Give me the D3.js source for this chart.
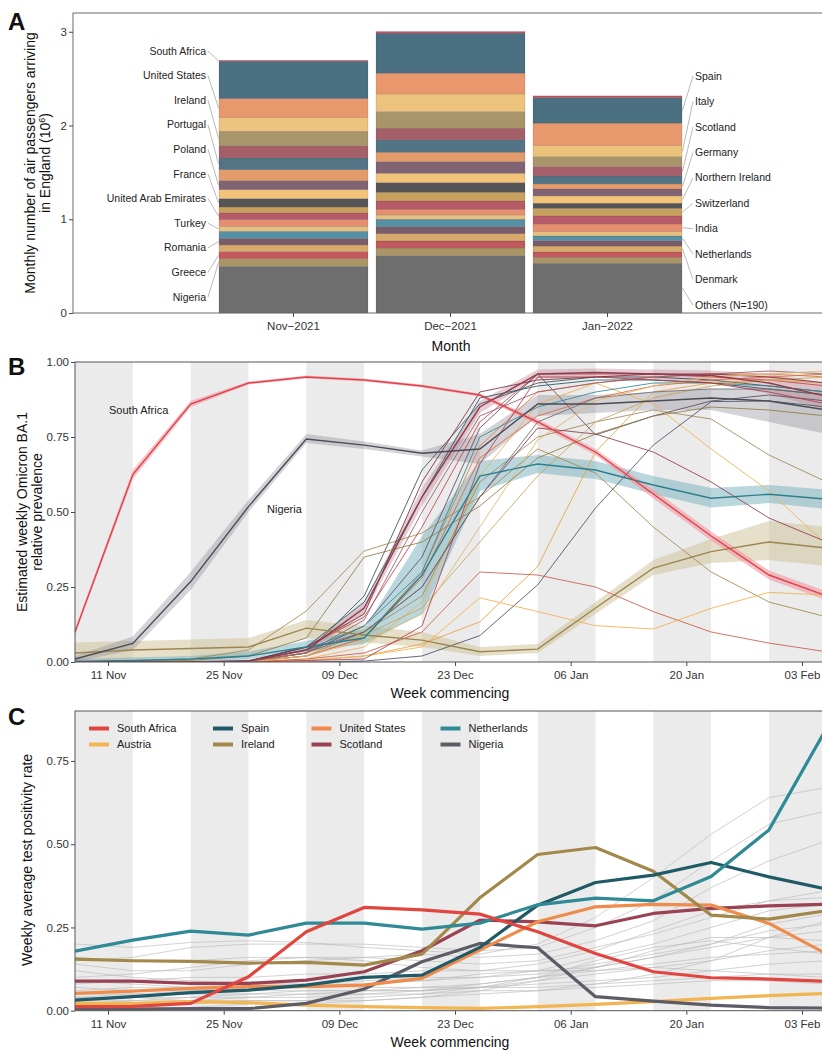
<!DOCTYPE html>
<html>
<head>
<meta charset="utf-8">
<script src="https://cdn.jsdelivr.net/npm/d3@7"></script>
<style>
  body { margin: 0; background: #fff; }
  svg { display: block; }
</style>
</head>
<body>
<svg id="fig" width="822" height="1052"></svg>
<script>
// ---------- Panel A: monthly arrivals by origin (millions) ----------
const months = ["Nov\u22122021", "Dec\u22122021", "Jan\u22122022"];
const origins = ["South Africa", "Spain", "United States", "Italy", "Ireland", "Scotland",
  "Portugal", "Germany", "Poland", "Northern Ireland", "France", "Switzerland",
  "United Arab Emirates", "India", "Turkey", "Netherlands", "Romania", "Denmark",
  "Greece", "Nigeria", "Others (N=190)"];
const passengersNov = [0.010, 0.398, 0.199, 0.150, 0.153, 0.131, 0.125, 0.117, 0.096, 0.096,
  0.089, 0.064, 0.071, 0.072, 0.053, 0.075, 0.070, 0.072, 0.075, 0.082, 0.497];
const passengersDec = [0.017, 0.427, 0.221, 0.189, 0.177, 0.124, 0.132, 0.100, 0.124, 0.100,
  0.103, 0.093, 0.088, 0.061, 0.046, 0.079, 0.075, 0.078, 0.074, 0.082, 0.612];
const passengersJan = [0.018, 0.273, 0.240, 0.117, 0.107, 0.099, 0.085, 0.053, 0.075, 0.078,
  0.054, 0.082, 0.085, 0.082, 0.046, 0.050, 0.058, 0.062, 0.056, 0.066, 0.530];
const originColors = ["#c9505c", "#4a6f80", "#e8986c", "#edc27d", "#a89569", "#a55f68",
  "#527485", "#e39b6a", "#806474", "#f1c479", "#555558", "#c8a15e", "#b65b67", "#e48f6f",
  "#e5c07f", "#5590a4", "#7a5c68", "#d6a96d", "#c2595f", "#a99566", "#6e6e6e"];
const labelledLeft = ["South Africa", "United States", "Ireland", "Portugal", "Poland", "France",
  "United Arab Emirates", "Turkey", "Romania", "Greece", "Nigeria"];
const labelledRight = ["Spain", "Italy", "Scotland", "Germany", "Northern Ireland", "Switzerland",
  "India", "Netherlands", "Denmark", "Others (N=190)"];
const passengerTicks = [0, 1, 2, 3];

// ---------- Panels B and C: weekly series ----------
const weekStarts = ["2021-11-07", "2021-11-14", "2021-11-21", "2021-11-28", "2021-12-05",
  "2021-12-12", "2021-12-19", "2021-12-26", "2022-01-02", "2022-01-09", "2022-01-16",
  "2022-01-23", "2022-01-30", "2022-02-06"];
const dateTicks = ["2021-11-11", "2021-11-25", "2021-12-09", "2021-12-23", "2022-01-06",
  "2022-01-20", "2022-02-03"];
const prevalenceTicks = [0, 0.25, 0.5, 0.75, 1];
const positivityTicks = [0, 0.25, 0.5, 0.75];

// Omicron BA.1 relative prevalence, origins with credible bands
const baSouthAfrica   = [0.10, 0.625, 0.86, 0.93, 0.95, 0.94, 0.92, 0.89, 0.80, 0.70, 0.56, 0.42, 0.29, 0.22];
const baSouthAfricaLo = [0.09, 0.61, 0.85, 0.925, 0.945, 0.935, 0.915, 0.885, 0.79, 0.69, 0.545, 0.405, 0.275, 0.205];
const baSouthAfricaHi = [0.11, 0.64, 0.87, 0.935, 0.955, 0.945, 0.925, 0.895, 0.81, 0.71, 0.575, 0.435, 0.305, 0.235];
const baNigeria   = [0.01, 0.062, 0.268, 0.518, 0.743, 0.723, 0.696, 0.71, 0.86, 0.86, 0.87, 0.88, 0.87, 0.84];
const baNigeriaLo = [0.0, 0.04, 0.24, 0.50, 0.73, 0.71, 0.685, 0.66, 0.82, 0.83, 0.84, 0.84, 0.80, 0.76];
const baNigeriaHi = [0.02, 0.085, 0.30, 0.54, 0.76, 0.735, 0.705, 0.76, 0.89, 0.89, 0.90, 0.91, 0.91, 0.90];
const baTeal   = [0.002, 0.005, 0.01, 0.02, 0.05, 0.08, 0.29, 0.62, 0.66, 0.64, 0.59, 0.546, 0.559, 0.543];
const baTealLo = [0.0, 0.0, 0.002, 0.01, 0.035, 0.06, 0.16, 0.57, 0.63, 0.61, 0.56, 0.515, 0.53, 0.51];
const baTealHi = [0.01, 0.015, 0.02, 0.035, 0.07, 0.11, 0.42, 0.67, 0.69, 0.67, 0.62, 0.58, 0.59, 0.575];
const baKhaki   = [0.03, 0.04, 0.045, 0.05, 0.113, 0.09, 0.073, 0.034, 0.043, 0.18, 0.313, 0.368, 0.40, 0.38];
const baKhakiLo = [0.0, 0.01, 0.015, 0.02, 0.08, 0.065, 0.05, 0.02, 0.03, 0.16, 0.29, 0.33, 0.34, 0.32];
const baKhakiHi = [0.065, 0.07, 0.075, 0.08, 0.14, 0.12, 0.10, 0.05, 0.06, 0.20, 0.34, 0.41, 0.47, 0.45];
const baMaroon   = [0.0, 0.0, 0.0, 0.003, 0.04, 0.18, 0.55, 0.85, 0.96, 0.965, 0.96, 0.955, 0.93, 0.885];
const baMaroonLo = [0.0, 0.0, 0.0, 0.0, 0.03, 0.16, 0.52, 0.83, 0.945, 0.95, 0.94, 0.93, 0.895, 0.84];
const baMaroonHi = [0.003, 0.003, 0.003, 0.008, 0.05, 0.20, 0.58, 0.87, 0.975, 0.978, 0.975, 0.972, 0.96, 0.93];

// remaining origins (no bands)
const baOtherSeries = [
  [0, 0, 0, 0.002, 0.03, 0.22, 0.64, 0.86, 0.93, 0.95, 0.95, 0.94, 0.92, 0.90],
  [0, 0, 0, 0.002, 0.05, 0.15, 0.45, 0.80, 0.96, 0.96, 0.96, 0.95, 0.94, 0.92],
  [0, 0, 0, 0.001, 0.03, 0.12, 0.35, 0.78, 0.96, 0.757, 0.82, 0.87, 0.89, 0.87],
  [0, 0, 0, 0.001, 0.02, 0.08, 0.30, 0.72, 0.90, 0.93, 0.95, 0.96, 0.96, 0.95],
  [0, 0, 0, 0, 0.01, 0.05, 0.20, 0.62, 0.86, 0.93, 0.86, 0.71, 0.57, 0.39],
  [0, 0.005, 0.01, 0.04, 0.17, 0.37, 0.43, 0.55, 0.71, 0.63, 0.45, 0.30, 0.20, 0.15],
  [0, 0, 0.001, 0.005, 0.04, 0.12, 0.30, 0.75, 0.85, 0.90, 0.93, 0.93, 0.92, 0.90],
  [0, 0, 0, 0.003, 0.05, 0.20, 0.55, 0.88, 0.92, 0.94, 0.94, 0.93, 0.91, 0.89],
  [0, 0, 0, 0.002, 0.02, 0.10, 0.22, 0.60, 0.75, 0.80, 0.84, 0.81, 0.69, 0.60],
  [0, 0, 0, 0, 0, 0.003, 0.02, 0.088, 0.257, 0.513, 0.723, 0.868, 0.87, 0.85],
  [0, 0, 0, 0, 0.005, 0.02, 0.06, 0.134, 0.318, 0.70, 0.90, 0.93, 0.94, 0.93],
  [0, 0, 0, 0, 0.01, 0.03, 0.10, 0.30, 0.29, 0.25, 0.168, 0.10, 0.063, 0.034],
  [0, 0, 0, 0, 0.005, 0.02, 0.05, 0.214, 0.168, 0.121, 0.11, 0.179, 0.232, 0.223],
  [0, 0, 0, 0.002, 0.03, 0.10, 0.25, 0.55, 0.78, 0.76, 0.70, 0.60, 0.48, 0.40],
  [0, 0, 0, 0.002, 0.02, 0.08, 0.28, 0.68, 0.82, 0.88, 0.92, 0.94, 0.95, 0.96],
  [0, 0, 0, 0.001, 0.03, 0.09, 0.18, 0.40, 0.62, 0.80, 0.88, 0.92, 0.94, 0.95],
  [0, 0, 0, 0.002, 0.03, 0.14, 0.50, 0.82, 0.90, 0.93, 0.95, 0.96, 0.97, 0.96],
  [0, 0, 0, 0.002, 0.04, 0.10, 0.25, 0.55, 0.80, 0.88, 0.90, 0.91, 0.91, 0.89],
  [0, 0, 0, 0.003, 0.05, 0.16, 0.60, 0.90, 0.94, 0.95, 0.96, 0.96, 0.95, 0.93],
  [0, 0, 0, 0, 0.02, 0.07, 0.16, 0.45, 0.74, 0.87, 0.92, 0.95, 0.96, 0.97],
  [0, 0.003, 0.005, 0.02, 0.08, 0.35, 0.40, 0.52, 0.68, 0.76, 0.82, 0.85, 0.84, 0.82],
  [0, 0, 0, 0, 0.005, 0.01, 0.12, 0.66, 0.95, 0.95, 0.94, 0.93, 0.90, 0.86]
];
const baOtherColors = ["#3b4d5a", "#c8424a", "#5e4a60", "#e57a3c", "#f0b050", "#a38a4c",
  "#2f8a96", "#1f5a66", "#9c8a5c", "#4a4f66", "#e9a040", "#cf5a4a", "#f2b04e", "#8e3b4d",
  "#dd6a3e", "#c9a25a", "#9a5a6a", "#6b6b70", "#7a2d3b", "#dfb66a", "#8f7d45", "#a8404f"];

// Weekly average test positivity rate
const tprNames  = ["South Africa", "Austria", "Spain", "Ireland", "United States", "Scotland", "Netherlands", "Nigeria"];
const tprColors = ["#e0463f", "#f2b551", "#1f5a66", "#a3884c", "#ef8b4b", "#9a4152", "#2f8a96", "#5d5c66"];
const tprSouthAfrica  = [0.012, 0.013, 0.022, 0.102, 0.237, 0.31, 0.303, 0.29, 0.237, 0.172, 0.117, 0.099, 0.095, 0.088];
const tprAustria      = [0.022, 0.022, 0.027, 0.024, 0.017, 0.012, 0.009, 0.007, 0.012, 0.019, 0.027, 0.037, 0.045, 0.052];
const tprSpain        = [0.032, 0.042, 0.054, 0.062, 0.077, 0.10, 0.107, 0.19, 0.317, 0.385, 0.407, 0.445, 0.402, 0.365];
const tprIreland      = [0.155, 0.15, 0.148, 0.143, 0.145, 0.137, 0.17, 0.339, 0.469, 0.49, 0.419, 0.287, 0.275, 0.30];
const tprUnitedStates = [0.052, 0.059, 0.067, 0.072, 0.072, 0.077, 0.097, 0.182, 0.267, 0.312, 0.319, 0.317, 0.262, 0.17];
const tprScotland     = [0.089, 0.089, 0.082, 0.082, 0.092, 0.117, 0.18, 0.272, 0.267, 0.255, 0.292, 0.307, 0.315, 0.32];
const tprNetherlands  = [0.179, 0.212, 0.239, 0.227, 0.263, 0.263, 0.245, 0.263, 0.318, 0.338, 0.33, 0.403, 0.543, 0.85];
const tprNigeria      = [0.005, 0.005, 0.006, 0.006, 0.022, 0.065, 0.147, 0.202, 0.189, 0.042, 0.029, 0.017, 0.009, 0.008];
const tprBackground = [
  [0.20, 0.19, 0.205, 0.21, 0.205, 0.19, 0.18, 0.17, 0.20, 0.28, 0.40, 0.53, 0.64, 0.67],
  [0.15, 0.16, 0.19, 0.20, 0.20, 0.20, 0.19, 0.18, 0.19, 0.25, 0.33, 0.45, 0.56, 0.60],
  [0.14, 0.12, 0.12, 0.14, 0.15, 0.16, 0.17, 0.16, 0.17, 0.21, 0.27, 0.37, 0.45, 0.51],
  [0.10, 0.11, 0.13, 0.15, 0.16, 0.16, 0.15, 0.14, 0.15, 0.19, 0.23, 0.28, 0.33, 0.36],
  [0.08, 0.09, 0.10, 0.10, 0.11, 0.11, 0.12, 0.12, 0.14, 0.18, 0.24, 0.30, 0.33, 0.34],
  [0.06, 0.07, 0.07, 0.08, 0.08, 0.09, 0.10, 0.10, 0.12, 0.16, 0.20, 0.25, 0.30, 0.32],
  [0.05, 0.05, 0.06, 0.06, 0.07, 0.08, 0.09, 0.10, 0.11, 0.14, 0.17, 0.20, 0.24, 0.26],
  [0.04, 0.05, 0.05, 0.05, 0.06, 0.06, 0.07, 0.08, 0.10, 0.13, 0.16, 0.19, 0.22, 0.24],
  [0.03, 0.04, 0.04, 0.05, 0.05, 0.06, 0.06, 0.07, 0.09, 0.11, 0.13, 0.15, 0.18, 0.20],
  [0.02, 0.03, 0.03, 0.04, 0.04, 0.05, 0.06, 0.08, 0.10, 0.12, 0.14, 0.16, 0.17, 0.18],
  [0.09, 0.08, 0.07, 0.06, 0.06, 0.06, 0.06, 0.07, 0.08, 0.09, 0.10, 0.12, 0.14, 0.15],
  [0.12, 0.10, 0.09, 0.08, 0.08, 0.07, 0.07, 0.07, 0.07, 0.08, 0.09, 0.10, 0.11, 0.11],
  [0.02, 0.02, 0.02, 0.03, 0.03, 0.03, 0.04, 0.05, 0.06, 0.08, 0.11, 0.15, 0.22, 0.27],
  [0.01, 0.01, 0.01, 0.02, 0.02, 0.03, 0.04, 0.06, 0.09, 0.13, 0.18, 0.22, 0.22, 0.21],
  [0.07, 0.06, 0.06, 0.07, 0.08, 0.08, 0.09, 0.11, 0.12, 0.12, 0.13, 0.12, 0.11, 0.10],
  [0.04, 0.04, 0.03, 0.03, 0.03, 0.04, 0.05, 0.07, 0.10, 0.15, 0.19, 0.21, 0.19, 0.17],
  [0.16, 0.15, 0.15, 0.16, 0.16, 0.15, 0.13, 0.12, 0.12, 0.13, 0.16, 0.20, 0.26, 0.29],
  [0.03, 0.03, 0.04, 0.04, 0.05, 0.05, 0.05, 0.06, 0.06, 0.07, 0.08, 0.09, 0.09, 0.08]
];

// ---------- drawing ----------
const FONT = "'Liberation Sans', Arial, Helvetica, sans-serif";
const TICK_SIZE = 11.5, TITLE_SIZE = 14;
const svg = d3.select("#fig").attr("font-family", FONT);

function styleAxis(g) {
  g.attr("font-family", FONT).attr("font-size", TICK_SIZE);
  g.select(".domain").remove();
  g.selectAll(".tick line").attr("stroke", "#333").attr("stroke-width", 0.9);
  g.selectAll(".tick text").attr("fill", "#333");
}
function panelLetter(t, x, y) {
  svg.append("text").attr("x", x).attr("y", y).attr("font-size", 24).attr("font-weight", "bold")
    .attr("fill", "#111").text(t);
}

// ===== Panel A =====
const gA = svg.append("g");
const xA = d3.scaleBand().domain(months).range([219, 682]).paddingInner(0.051);
const yA = d3.scaleLinear().domain([0, 3.2]).range([313, 13]);
const monthValues = [passengersNov, passengersDec, passengersJan];
const rows = months.map((m, i) => {
  const r = { month: m };
  origins.forEach((o, j) => { r[o] = monthValues[i][j]; });
  return r;
});
const stacked = d3.stack().keys(origins.slice().reverse())(rows);

gA.selectAll("g.layer").data(stacked).join("g").attr("class", "layer")
  .attr("fill", d => originColors[origins.indexOf(d.key)])
  .selectAll("rect").data(d => d).join("rect")
  .attr("x", d => xA(d.data.month)).attr("width", xA.bandwidth())
  .attr("y", d => yA(d[1])).attr("height", d => yA(d[0]) - yA(d[1]))
  .attr("stroke", "rgba(70,45,45,0.28)").attr("stroke-width", 0.5);

gA.append("rect").attr("x", 73).attr("y", 13).attr("width", 760).attr("height", 300)
  .attr("fill", "none").attr("stroke", "#6a6a6a").attr("stroke-width", 1);

gA.append("g").attr("transform", "translate(73,0)")
  .call(d3.axisLeft(yA).tickValues(passengerTicks).tickFormat(d3.format("d")).tickSize(4).tickPadding(2))
  .call(styleAxis);
gA.append("g").attr("transform", "translate(0,313)")
  .call(d3.axisBottom(xA).tickSize(4).tickPadding(5)).call(styleAxis);

function segmentMid(name, mi) {
  const s = stacked.find(l => l.key === name);
  return yA((s[mi][0] + s[mi][1]) / 2);
}
const leftLabelY = d3.scaleLinear().domain([0, labelledLeft.length - 1]).range([51, 297]);
const rightLabelY = d3.scaleLinear().domain([0, labelledRight.length - 1]).range([76, 305]);
const barLeft = xA(months[0]);
const barRight = xA(months[2]) + xA.bandwidth();

labelledLeft.forEach((name, i) => {
  const ly = leftLabelY(i);
  gA.append("line").attr("x1", 208).attr("y1", ly).attr("x2", barLeft - 0.5).attr("y2", segmentMid(name, 0))
    .attr("stroke", "#8a8a8a").attr("stroke-width", 0.6);
  gA.append("text").attr("x", 206).attr("y", ly).attr("dy", "0.35em").attr("text-anchor", "end")
    .attr("font-size", 10.5).attr("fill", "#222").text(name);
});
labelledRight.forEach((name, i) => {
  const ly = rightLabelY(i);
  gA.append("line").attr("x1", barRight + 0.5).attr("y1", segmentMid(name, 2)).attr("x2", 693).attr("y2", ly)
    .attr("stroke", "#8a8a8a").attr("stroke-width", 0.6);
  gA.append("text").attr("x", 695).attr("y", ly).attr("dy", "0.35em")
    .attr("font-size", 10.5).attr("fill", "#222").text(name);
});

gA.append("text").attr("transform", "translate(35,163) rotate(-90)").attr("text-anchor", "middle")
  .attr("font-size", TITLE_SIZE).attr("fill", "#111").text("Monthly number of air passengers arriving");
gA.append("text").attr("transform", "translate(50,163) rotate(-90)").attr("text-anchor", "middle")
  .attr("font-size", TITLE_SIZE).attr("fill", "#111")
  .call(t => { t.append("tspan").text("in England (10"); t.append("tspan").attr("dy", -5).attr("font-size", 9).text("6"); t.append("tspan").attr("dy", 5).text(")"); });
gA.append("text").attr("x", 451).attr("y", 351).attr("text-anchor", "middle")
  .attr("font-size", TITLE_SIZE).attr("fill", "#111").text("Month");
panelLetter("A", 8, 30);

// ===== shared time axis =====
const parseDay = d3.utcParse("%Y-%m-%d");
const weekDates = weekStarts.map(parseDay);
const xT = d3.scaleUtc().domain([parseDay("2021-11-07"), parseDay("2022-02-06")]).range([75, 826.8]);
const PLOT_LEFT = 75, PLOT_RIGHT = 822;

function timeFrame(id, top, bottom, y, ticks) {
  const g = svg.append("g");
  svg.append("defs").append("clipPath").attr("id", id)
    .append("rect").attr("x", PLOT_LEFT).attr("y", top).attr("width", PLOT_RIGHT - PLOT_LEFT).attr("height", bottom - top);
  const inner = g.append("g").attr("clip-path", `url(#${id})`);
  inner.append("g").selectAll("rect").data(weekDates.filter((d, i) => i % 2 === 0)).join("rect")
    .attr("x", d => xT(d)).attr("width", d => xT(d3.utcDay.offset(d, 7)) - xT(d))
    .attr("y", top).attr("height", bottom - top).attr("fill", "#ebebeb");
  g.append("g").attr("transform", `translate(${PLOT_LEFT},0)`)
    .call(d3.axisLeft(y).tickValues(ticks).tickFormat(d3.format(".2f")).tickSize(4).tickPadding(2)).call(styleAxis);
  g.append("g").attr("transform", `translate(0,${bottom})`)
    .call(d3.axisBottom(xT).tickValues(dateTicks.map(parseDay)).tickFormat(d3.utcFormat("%d %b")).tickSize(4).tickPadding(5))
    .call(styleAxis);
  g.append("text").attr("x", 450).attr("y", bottom + 36).attr("text-anchor", "middle")
    .attr("font-size", TITLE_SIZE).attr("fill", "#111").text("Week commencing");
  return { g, inner };
}
function frameBorder(g, top, bottom) {
  g.append("rect").attr("x", PLOT_LEFT).attr("y", top).attr("width", 760).attr("height", bottom - top)
    .attr("fill", "none").attr("stroke", "#555").attr("stroke-width", 1);
}

// ===== Panel B =====
const B_TOP = 362, B_BOT = 662;
const yB = d3.scaleLinear().domain([0, 1]).range([B_BOT, B_TOP]);
const fB = timeFrame("clipB", B_TOP, B_BOT, yB, prevalenceTicks);
const lineB = d3.line().x((d, i) => xT(weekDates[i])).y(d => yB(d));
const areaB = d3.area().x((d, i) => xT(weekDates[i])).y0(d => yB(d[0])).y1(d => yB(d[1]));
const bands = [
  { lo: baKhakiLo, hi: baKhakiHi, fill: "#cdbf95", op: 0.5 },
  { lo: baTealLo, hi: baTealHi, fill: "#78afbd", op: 0.5 },
  { lo: baNigeriaLo, hi: baNigeriaHi, fill: "#8e8e98", op: 0.38 },
  { lo: baMaroonLo, hi: baMaroonHi, fill: "#c08090", op: 0.38 },
  { lo: baSouthAfricaLo, hi: baSouthAfricaHi, fill: "#f29aa2", op: 0.6 }
];
fB.inner.append("g").selectAll("path").data(bands).join("path")
  .attr("d", b => areaB(b.lo.map((v, i) => [v, b.hi[i]])))
  .attr("fill", b => b.fill).attr("opacity", b => b.op);
fB.inner.append("g").selectAll("path").data(baOtherSeries).join("path")
  .attr("d", d => lineB(d)).attr("fill", "none")
  .attr("stroke", (d, i) => baOtherColors[i]).attr("stroke-width", 1).attr("opacity", 0.85);
const highlighted = [
  { v: baKhaki, c: "#9c8650" }, { v: baTeal, c: "#2c7f8c" }, { v: baMaroon, c: "#8e3b4d" },
  { v: baNigeria, c: "#4b4b55" }, { v: baSouthAfrica, c: "#e0414a" }
];
fB.inner.append("g").selectAll("path").data(highlighted).join("path")
  .attr("d", d => lineB(d.v)).attr("fill", "none").attr("stroke", d => d.c).attr("stroke-width", 1.4);
frameBorder(fB.g, B_TOP, B_BOT);
fB.g.append("text").attr("x", 109).attr("y", 410).attr("dy", "0.35em").attr("font-size", 11).attr("fill", "#222").text("South Africa");
fB.g.append("text").attr("x", 267).attr("y", 509).attr("dy", "0.35em").attr("font-size", 11).attr("fill", "#222").text("Nigeria");
fB.g.append("text").attr("transform", "translate(27,512) rotate(-90)").attr("text-anchor", "middle")
  .attr("font-size", TITLE_SIZE).attr("fill", "#111").text("Estimated weekly Omicron BA.1");
fB.g.append("text").attr("transform", "translate(42,512) rotate(-90)").attr("text-anchor", "middle")
  .attr("font-size", TITLE_SIZE).attr("fill", "#111").text("relative prevalence");
panelLetter("B", 8, 375);

// ===== Panel C =====
const C_TOP = 711, C_BOT = 1010.7;
const yC = d3.scaleLinear().domain([0, 0.9]).range([C_BOT, C_TOP]);
const fC = timeFrame("clipC", C_TOP, C_BOT, yC, positivityTicks);
const lineC = d3.line().x((d, i) => xT(weekDates[i])).y(d => yC(d));
fC.inner.append("g").selectAll("path").data(tprBackground).join("path")
  .attr("d", d => lineC(d)).attr("fill", "none").attr("stroke", "#bdbdbd").attr("stroke-width", 0.8).attr("opacity", 0.85);
const tprSeries = [tprSouthAfrica, tprAustria, tprSpain, tprIreland, tprUnitedStates, tprScotland, tprNetherlands, tprNigeria];
const drawOrder = [1, 7, 5, 4, 3, 2, 6, 0];
fC.inner.append("g").selectAll("path").data(drawOrder).join("path")
  .attr("d", k => lineC(tprSeries[k])).attr("fill", "none")
  .attr("stroke", k => tprColors[k]).attr("stroke-width", 3.2).attr("stroke-linejoin", "round");
frameBorder(fC.g, C_TOP, C_BOT);

// legend: two rows, filled column by column
const legendX = [89, 213, 311.5, 440.5];
const legendY = [728.5, 744.5];
const legend = fC.g.append("g").selectAll("g").data(tprNames).join("g")
  .attr("transform", (d, i) => `translate(${legendX[Math.floor(i / 2)]},${legendY[i % 2]})`);
legend.append("line").attr("x1", 0).attr("x2", 20).attr("stroke", (d, i) => tprColors[i]).attr("stroke-width", 4);
legend.append("text").attr("x", 28).attr("dy", "0.35em").attr("font-size", 11).attr("fill", "#222").text(d => d);

fC.g.append("text").attr("transform", "translate(32,860) rotate(-90)").attr("text-anchor", "middle")
  .attr("font-size", TITLE_SIZE).attr("fill", "#111").text("Weekly average test positivity rate");
panelLetter("C", 8, 725);
</script>
</body>
</html>
